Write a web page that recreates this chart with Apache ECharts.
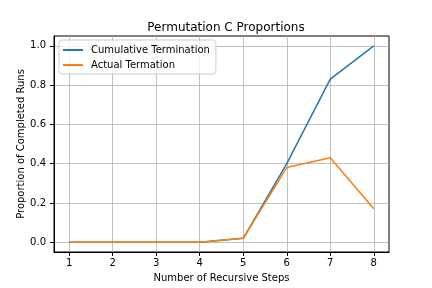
<!DOCTYPE html>
<html><head><meta charset="utf-8">
<script src="https://cdn.jsdelivr.net/npm/echarts@6/dist/echarts.min.js"></script>
<style>html,body{margin:0;padding:0;background:#fff}#c{width:432px;height:288px}</style>
</head><body><div id="c"></div>
<script>
const steps = [1, 2, 3, 4, 5, 6, 7, 8];
const cumulative = [0, 0, 0, 0, 0.02, 0.40, 0.83, 1.0];
const actual = [0, 0, 0, 0, 0.02, 0.38, 0.43, 0.17];
const xTicks = [1, 2, 3, 4, 5, 6, 7, 8];
const yTicks = [0, 0.2, 0.4, 0.6, 0.8, 1.0];

const font = 'DejaVu Sans';
const chart = echarts.init(document.getElementById('c'), null, {renderer: 'canvas'});
chart.setOption({
  animation: false,
  textStyle: {fontFamily: font, color: '#000'},
  title: {text: 'Permutation C Proportions', left: 221, top: 17, textAlign: 'center',
    textStyle: {fontFamily: font, fontSize: 12, fontWeight: 'normal', color: '#000'}},
  grid: {left: 54, right: 43, top: 36, bottom: 36, show: true, borderColor: '#000', borderWidth: 1, containLabel: false},
  legend: {
    orient: 'vertical', left: 59, top: 40, padding: [5, 6, 4, 4], itemGap: 5,
    itemWidth: 23, itemHeight: 10, icon: 'path://M0,4 L20,4 L20,6 L0,6 Z M23,0 L23.01,0 L23.01,10 L23,10 Z',
    backgroundColor: 'rgba(255,255,255,0.8)', borderColor: '#cccccc', borderWidth: 1, borderRadius: 3,
    textStyle: {fontFamily: font, fontSize: 10, color: '#000'},
    data: ['Cumulative Termination', 'Actual Termation']
  },
  xAxis: {
    type: 'value', min: 0.65, max: 8.35,
    name: 'Number of Recursive Steps', nameLocation: 'middle', nameGap: 21, nameMoveOverlap: false,
    nameTextStyle: {fontFamily: font, fontSize: 10, color: '#000'},
    axisLine: {show: true, onZero: false, lineStyle: {color: '#000', width: 1}},
    axisTick: {show: true, inside: false, length: 4, customValues: xTicks, lineStyle: {color: '#000'}},
    axisLabel: {customValues: xTicks, fontFamily: font, fontSize: 10, color: '#000', margin: 6,
      formatter: v => String(Math.round(v))},
    splitLine: {show: true, lineStyle: {color: '#b0b0b0', width: 0.8}}
  },
  yAxis: {
    type: 'value', min: -0.05, max: 1.05,
    name: 'Proportion of Completed Runs', nameLocation: 'middle', nameGap: 28, nameMoveOverlap: false,
    nameTextStyle: {fontFamily: font, fontSize: 10, color: '#000'},
    axisLine: {show: true, onZero: false, lineStyle: {color: '#000', width: 1}},
    axisTick: {show: true, inside: false, length: 4, customValues: yTicks, lineStyle: {color: '#000'}},
    axisLabel: {customValues: yTicks, fontFamily: font, fontSize: 10, color: '#000', margin: 8,
      formatter: v => v.toFixed(1)},
    splitLine: {show: true, lineStyle: {color: '#b0b0b0', width: 0.8}}
  },
  series: [
    {name: 'Cumulative Termination', type: 'line', showSymbol: false, symbol: 'none',
      data: steps.map((s, i) => [s, cumulative[i]]),
      lineStyle: {color: '#1f77b4', width: 1.5}, itemStyle: {color: '#1f77b4'}},
    {name: 'Actual Termation', type: 'line', showSymbol: false, symbol: 'none',
      data: steps.map((s, i) => [s, actual[i]]),
      lineStyle: {color: '#ff7f0e', width: 1.5}, itemStyle: {color: '#ff7f0e'}}
  ]
});
</script></body></html>
